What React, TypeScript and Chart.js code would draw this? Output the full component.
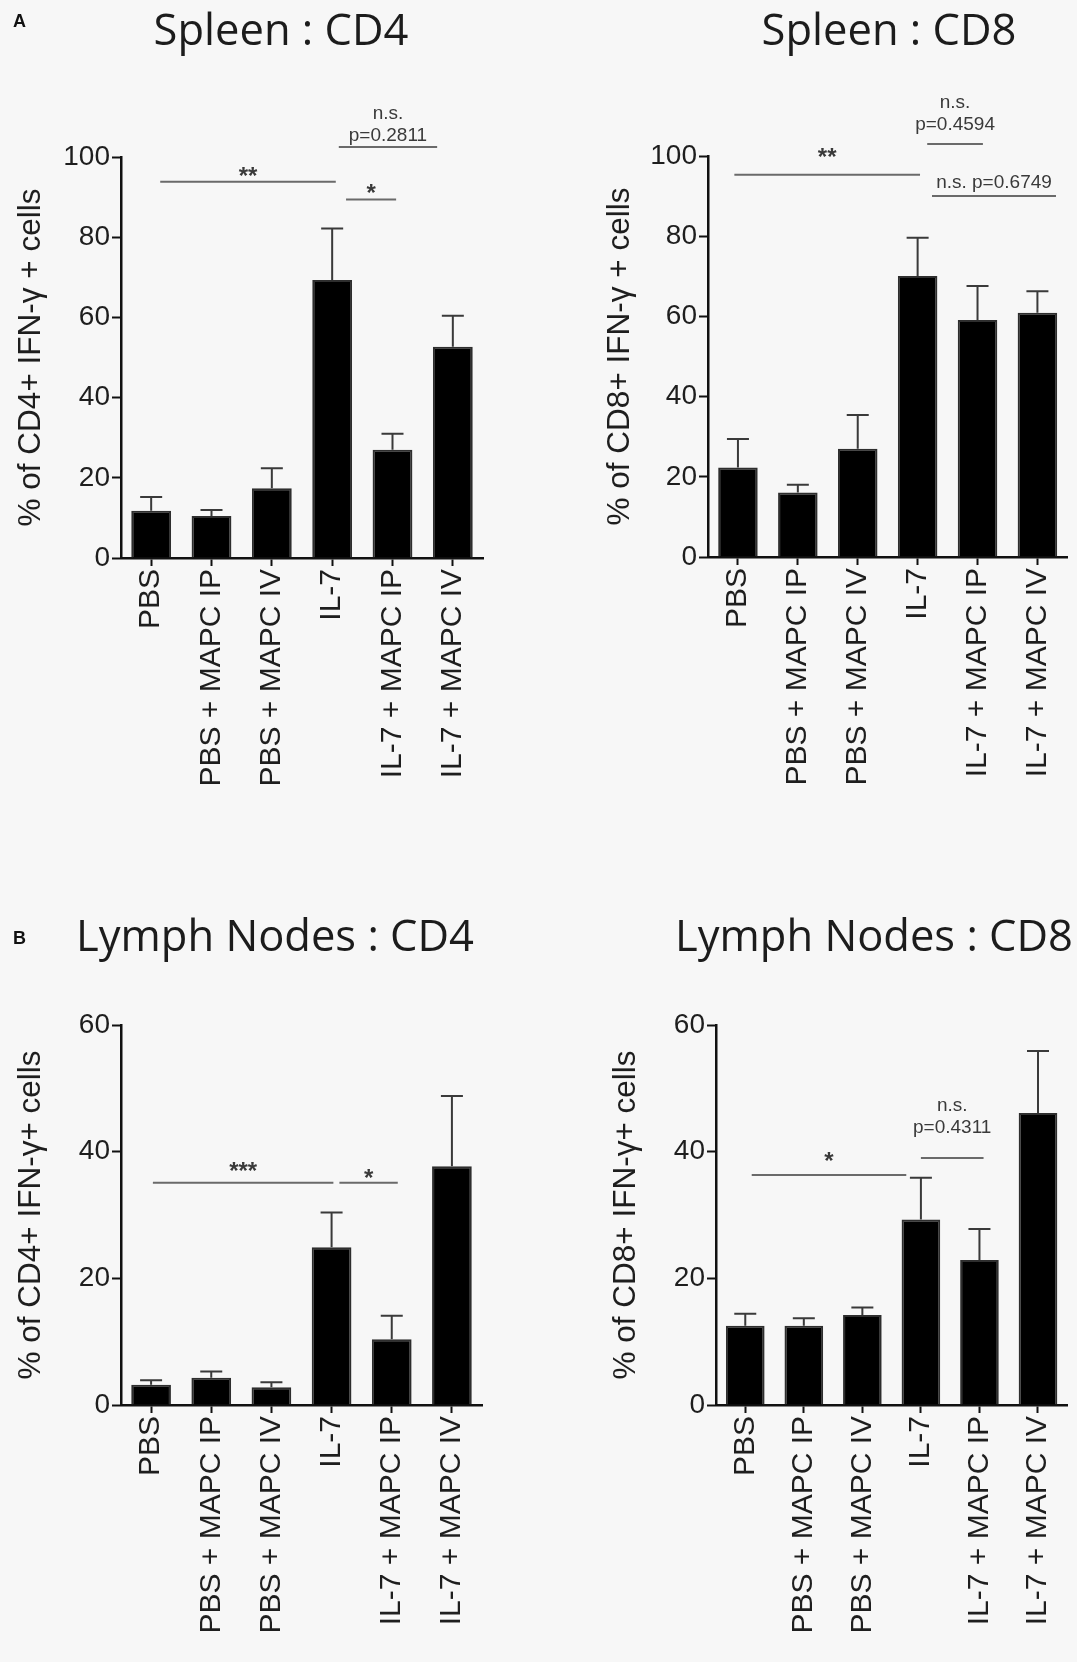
import React, { useEffect, useRef } from 'react';
import { Chart, registerables } from 'chart.js';

Chart.register(...registerables);

// ---------- data ----------
const categories = ['PBS', 'PBS + MAPC IP', 'PBS + MAPC IV', 'IL-7', 'IL-7 + MAPC IP', 'IL-7 + MAPC IV'];

const spleenCD4Mean = [11.8, 10.5, 17.4, 69.3, 27.0, 52.7];
const spleenCD4Sem = [3.4, 1.5, 5.0, 12.9, 4.0, 7.7];

const spleenCD8Mean = [22.3, 16.1, 27.0, 70.1, 59.1, 60.9];
const spleenCD8Sem = [7.1, 1.9, 8.4, 9.5, 8.5, 5.4];

const lymphCD4Mean = [3.2, 4.3, 2.8, 24.9, 10.4, 37.7];
const lymphCD4Sem = [0.7, 1.0, 0.8, 5.5, 3.7, 11.1];

const lymphCD8Mean = [12.5, 12.5, 14.2, 29.3, 22.9, 46.1];
const lymphCD8Sem = [1.9, 1.2, 1.2, 6.6, 4.9, 9.8];

const spleenTicks = [0, 20, 40, 60, 80, 100];
const lymphTicks = [0, 20, 40, 60];

type Bracket = { from: number; to: number; y: number; textY: number; text: string[] };

// from / to are category positions (index units), y / textY are data values
const spleenCD4Brackets: Bracket[] = [
  { from: 0.15, to: 3.06, y: 93.8, textY: 96.3, text: ['**'] },
  { from: 3.23, to: 4.06, y: 89.4, textY: 92.3, text: ['*'] },
  { from: 3.11, to: 4.74, y: 102.5, textY: 105.2, text: ['n.s.', 'p=0.2811'] },
];
const spleenCD8Brackets: Bracket[] = [
  { from: -0.06, to: 3.04, y: 95.3, textY: 101, text: ['**'] },
  { from: 3.24, to: 5.31, y: 90, textY: 93.3, text: ['n.s. p=0.6749'] },
  { from: 3.16, to: 4.09, y: 103, textY: 107.7, text: ['n.s.', 'p=0.4594'] },
];
const lymphCD4Brackets: Bracket[] = [
  { from: 0.03, to: 3.03, y: 35.1, textY: 37.7, text: ['***'] },
  { from: 3.13, to: 4.1, y: 35.1, textY: 36.6, text: ['*'] },
];
const lymphCD8Brackets: Bracket[] = [
  { from: 0.11, to: 2.75, y: 36.3, textY: 39.2, text: ['*'] },
  { from: 3.0, to: 4.07, y: 39.0, textY: 43.7, text: ['n.s.', 'p=0.4311'] },
];

// ---------- layout ----------
type PanelCfg = {
  title: string;
  yTitle: string;
  means: number[];
  sems: number[];
  ticks: number[];
  brackets: Bracket[];
  box: { x: number; y: number; w: number; h: number };
  area: { l: number; r: number; t: number; b: number };
  yTitleX: number;
  titleCX: number;
  titleTop: number;
};

const panels: PanelCfg[] = [
  {
    title: 'Spleen : CD4',
    yTitle: '% of CD4+ IFN-\u03b3 + cells',
    means: spleenCD4Mean, sems: spleenCD4Sem, ticks: spleenTicks, brackets: spleenCD4Brackets,
    box: { x: 0, y: 0, w: 538, h: 830 },
    area: { l: 121, r: 483, t: 157, b: 558 },
    yTitleX: 31, titleCX: 281, titleTop: 7,
  },
  {
    title: 'Spleen : CD8',
    yTitle: '% of CD8+ IFN-\u03b3 + cells',
    means: spleenCD8Mean, sems: spleenCD8Sem, ticks: spleenTicks, brackets: spleenCD8Brackets,
    box: { x: 538, y: 0, w: 539, h: 830 },
    area: { l: 708, r: 1070, t: 156, b: 557 },
    yTitleX: 620, titleCX: 889, titleTop: 7,
  },
  {
    title: 'Lymph Nodes : CD4',
    yTitle: '% of CD4+ IFN-\u03b3+ cells',
    means: lymphCD4Mean, sems: lymphCD4Sem, ticks: lymphTicks, brackets: lymphCD4Brackets,
    box: { x: 0, y: 830, w: 538, h: 832 },
    area: { l: 121, r: 482, t: 1025, b: 1405 },
    yTitleX: 31, titleCX: 275, titleTop: 913,
  },
  {
    title: 'Lymph Nodes : CD8',
    yTitle: '% of CD8+ IFN-\u03b3+ cells',
    means: lymphCD8Mean, sems: lymphCD8Sem, ticks: lymphTicks, brackets: lymphCD8Brackets,
    box: { x: 538, y: 830, w: 539, h: 832 },
    area: { l: 716, r: 1077, t: 1025, b: 1405 },
    yTitleX: 626, titleCX: 874, titleTop: 913,
  },
];

const SANS = "'Liberation Sans', Arial, sans-serif";
const Y_TITLE_SIZE = 31.5;

function makeOverlay(means: number[], sems: number[], brackets: Bracket[]) {
  return {
    id: 'overlay',
    afterDatasetsDraw(chart: any) {
      const { ctx } = chart;
      const x = chart.scales.x;
      const y = chart.scales.y;
      ctx.save();
      // error bars (upper SEM)
      ctx.strokeStyle = '#3a3a3a';
      ctx.lineWidth = 2;
      means.forEach((m, i) => {
        const px = x.getPixelForValue(i);
        const base = y.getPixelForValue(m);
        const top = y.getPixelForValue(m + sems[i]);
        ctx.beginPath();
        ctx.moveTo(px, base);
        ctx.lineTo(px, top);
        ctx.moveTo(px - 11, top);
        ctx.lineTo(px + 11, top);
        ctx.stroke();
      });
      // significance brackets
      brackets.forEach((b) => {
        const x1 = x.getPixelForValue(b.from);
        const x2 = x.getPixelForValue(b.to);
        const ly = y.getPixelForValue(b.y);
        ctx.strokeStyle = '#6a6a6a';
        ctx.lineWidth = 2;
        ctx.beginPath();
        ctx.moveTo(x1, ly);
        ctx.lineTo(x2, ly);
        ctx.stroke();
        const cx = (x1 + x2) / 2;
        const ty = y.getPixelForValue(b.textY);
        ctx.fillStyle = '#3a3a3a';
        ctx.textAlign = 'center';
        ctx.textBaseline = 'middle';
        const n = b.text.length;
        b.text.forEach((t, k) => {
          const lineY = ty - (n - 1 - k) * 22;
          if (/^\*+$/.test(t)) {
            ctx.font = `bold 24px ${SANS}`;
            ctx.fillText(t, cx, lineY + 6);
          } else {
            ctx.font = `19px ${SANS}`;
            ctx.fillText(t, cx, lineY);
          }
        });
      });
      ctx.restore();
    },
  };
}

function Panel({ cfg }: { cfg: PanelCfg }) {
  const ref = useRef<HTMLCanvasElement>(null);
  useEffect(() => {
    const { box, area } = cfg;
    const chart = new Chart(ref.current as HTMLCanvasElement, {
      type: 'bar',
      data: {
        labels: categories,
        datasets: [
          {
            data: cfg.means,
            backgroundColor: '#000000',
            borderColor: '#2e2e2e',
            borderWidth: 2,
            barPercentage: 0.66,
            categoryPercentage: 1,
          },
        ],
      },
      options: {
        responsive: false,
        animation: false,
        devicePixelRatio: 1,
        layout: {
          padding: {
            left: 0,
            top: area.t - box.y,
            right: box.x + box.w - area.r,
            bottom: 0,
          },
        },
        plugins: {
          legend: { display: false },
          tooltip: { enabled: false },
          title: { display: false },
        },
        scales: {
          x: {
            type: 'category',
            offset: true,
            afterFit: (s: any) => {
              s.height = box.y + box.h - area.b;
            },
            grid: {
              display: true,
              drawOnChartArea: false,
              drawTicks: true,
              tickLength: 8,
              tickWidth: 2,
              tickColor: '#111',
              offset: false,
            },
            border: { display: true, color: '#111', width: 2.5 },
            ticks: {
              autoSkip: false,
              minRotation: 90,
              maxRotation: 90,
              padding: 3,
              color: '#1e1e1e',
              font: { family: SANS, size: 30 },
            },
          },
          y: {
            type: 'linear',
            min: cfg.ticks[0],
            max: cfg.ticks[cfg.ticks.length - 1],
            afterFit: (s: any) => {
              s.width = area.l - box.x;
            },
            afterBuildTicks: (s: any) => {
              s.ticks = cfg.ticks.map((v) => ({ value: v }));
            },
            grid: {
              display: true,
              drawOnChartArea: false,
              drawTicks: true,
              tickLength: 9,
              tickWidth: 2,
              tickColor: '#111',
            },
            border: { display: true, color: '#111', width: 2.5 },
            ticks: {
              padding: 2,
              color: '#1e1e1e',
              font: { family: SANS, size: 28 },
            },
            title: {
              display: true,
              text: cfg.yTitle,
              color: '#1e1e1e',
              font: { family: SANS, size: Y_TITLE_SIZE },
              padding: { top: cfg.yTitleX - box.x - (Y_TITLE_SIZE * 1.2) / 2, bottom: 0 },
            },
          },
        },
      },
      plugins: [makeOverlay(cfg.means, cfg.sems, cfg.brackets)],
    } as any);
    return () => chart.destroy();
  }, [cfg]);
  return (
    <canvas
      ref={ref}
      width={cfg.box.w}
      height={cfg.box.h}
      style={{ position: 'absolute', left: cfg.box.x, top: cfg.box.y, width: cfg.box.w, height: cfg.box.h }}
    />
  );
}

export default function App() {
  return (
    <div
      style={{
        position: 'absolute',
        left: 0,
        top: 0,
        width: 1077,
        height: 1662,
        background: '#f7f7f7',
        overflow: 'hidden',
      }}
    >
      {panels.map((p, i) => (
        <Panel key={i} cfg={p} />
      ))}
      {panels.map((p, i) => (
        <div
          key={'t' + i}
          style={{
            position: 'absolute',
            left: p.titleCX - 300,
            width: 600,
            top: p.titleTop,
            textAlign: 'center',
            fontFamily: "'Open Sans', sans-serif",
            fontSize: 43.5,
            lineHeight: '43.5px',
            color: '#1c1c1c',
            whiteSpace: 'nowrap',
          }}
        >
          {p.title}
        </div>
      ))}
      <div style={{ position: 'absolute', left: 13, top: 11, fontFamily: SANS, fontWeight: 'bold', fontSize: 18, lineHeight: '20px', color: '#111' }}>A</div>
      <div style={{ position: 'absolute', left: 13, top: 928, fontFamily: SANS, fontWeight: 'bold', fontSize: 18, lineHeight: '20px', color: '#111' }}>B</div>
    </div>
  );
}
